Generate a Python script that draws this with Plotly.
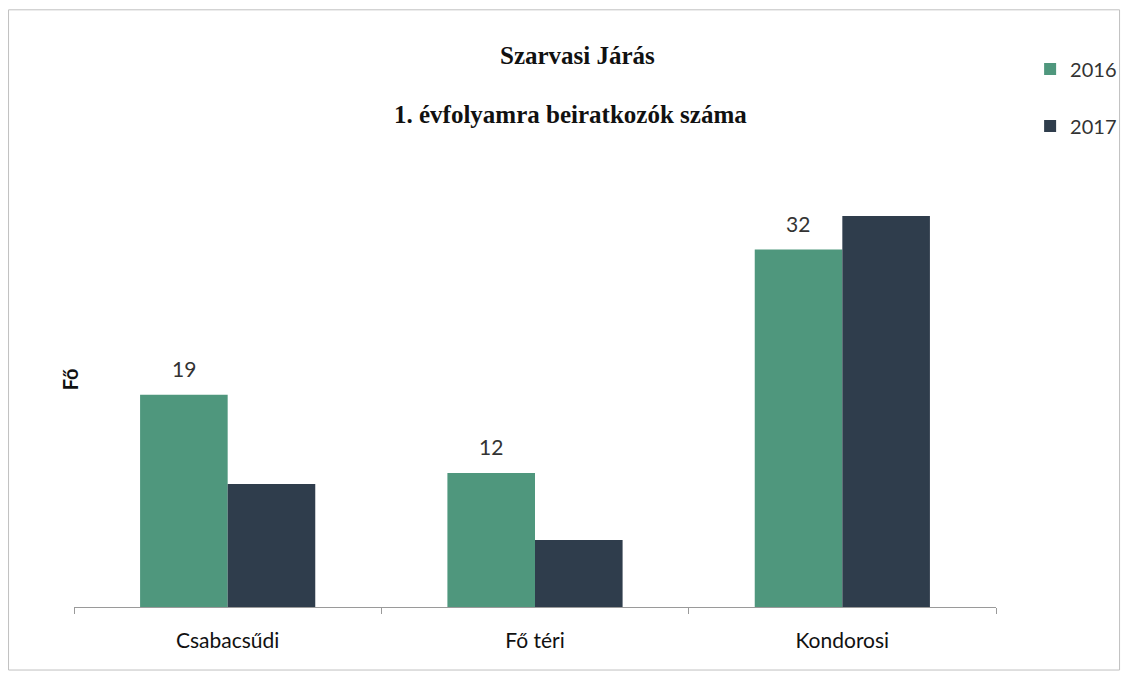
import plotly.graph_objects as go

# Szarvasi Járás - first graders enrolled, per school
schools = ["Csabacsűdi", "Fő téri", "Kondorosi"]
y2016 = [19, 12, 32]
y2017 = [11, 6, 35]

green = "#4f977d"
dark = "#2f3d4c"

fig = go.Figure()

fig.add_trace(go.Bar(
  x = schools, y = y2016, name = "2016", legendgroup = "a",
  marker = dict(color = green, line = dict(width = 0))
))

fig.add_trace(go.Bar(
  x = schools, y = y2017, name = "2017", legendgroup = "b",
  marker = dict(color = dark, line = dict(width = 0))
))

# value labels above the 2016 bars only
labels = []
for s, v in zip(schools, y2016):
  labels.append(dict(
    text = str(v), x = s, y = v, xref = "x", yref = "y",
    xshift = -44, yshift = 26, yanchor = "middle", xanchor = "center", showarrow = False,
    font = dict(family = "Lato, Open Sans, sans-serif", size = 21, color = "#333333")
  ))

fig.update_layout(
  width = 1126, height = 677,
  barmode = "group", bargap = 0.43, bargroupgap = 0,
  plot_bgcolor = "white", paper_bgcolor = "white",
  margin = dict(l = 74, r = 130, t = 160, b = 70, autoexpand = False),
  font = dict(family = "Lato, Open Sans, sans-serif", color = "#222222"),
  showlegend = True,
  legend = dict(
    x = 1.037, y = 1.247, xanchor = "left", yanchor = "top",
    tracegroupgap = 28, itemwidth = 30,
    font = dict(size = 20, color = "#333333"),
    bgcolor = "rgba(0,0,0,0)"
  ),
  xaxis = dict(
    showline = True, linecolor = "#9a9a9a", linewidth = 1,
    ticks = "outside", tickson = "boundaries", ticklen = 6, tickcolor = "#9a9a9a",
    tickfont = dict(size = 21, color = "#111111"),
    ticklabelstandoff = 15, showgrid = False
  ),
  yaxis = dict(
    range = [0, 40], showticklabels = False, showgrid = False,
    zeroline = False, showline = False, ticks = ""
  ),
  annotations = labels + [
    dict(text = "<b>Szarvasi Járás</b>", xref = "paper", yref = "paper",
         x = 0.546, y = 1.269, showarrow = False,
         font = dict(family = "Liberation Serif, serif", size = 25, color = "#111111")),
    dict(text = "<b>1. évfolyamra beiratkozók száma</b>", xref = "paper", yref = "paper",
         x = 0.538, y = 1.137, showarrow = False,
         font = dict(family = "Liberation Serif, serif", size = 25, color = "#111111")),
    dict(text = "<b>Fő</b>", xref = "paper", yref = "paper",
         x = -0.004, y = 0.51, xanchor = "center", yanchor = "middle",
         showarrow = False, textangle = -90,
         font = dict(size = 20, color = "#111111")),
  ],
  shapes = [
    dict(type = "rect", xref = "paper", yref = "paper",
         x0 = -0.071, x1 = 1.134, y0 = -0.141, y1 = 1.336,
         line = dict(color = "#c0c0c0", width = 1))
  ]
)

fig.write_html("out.html", config = {"displayModeBar": False},
               post_script = "document.body.style.margin = '0px';")
